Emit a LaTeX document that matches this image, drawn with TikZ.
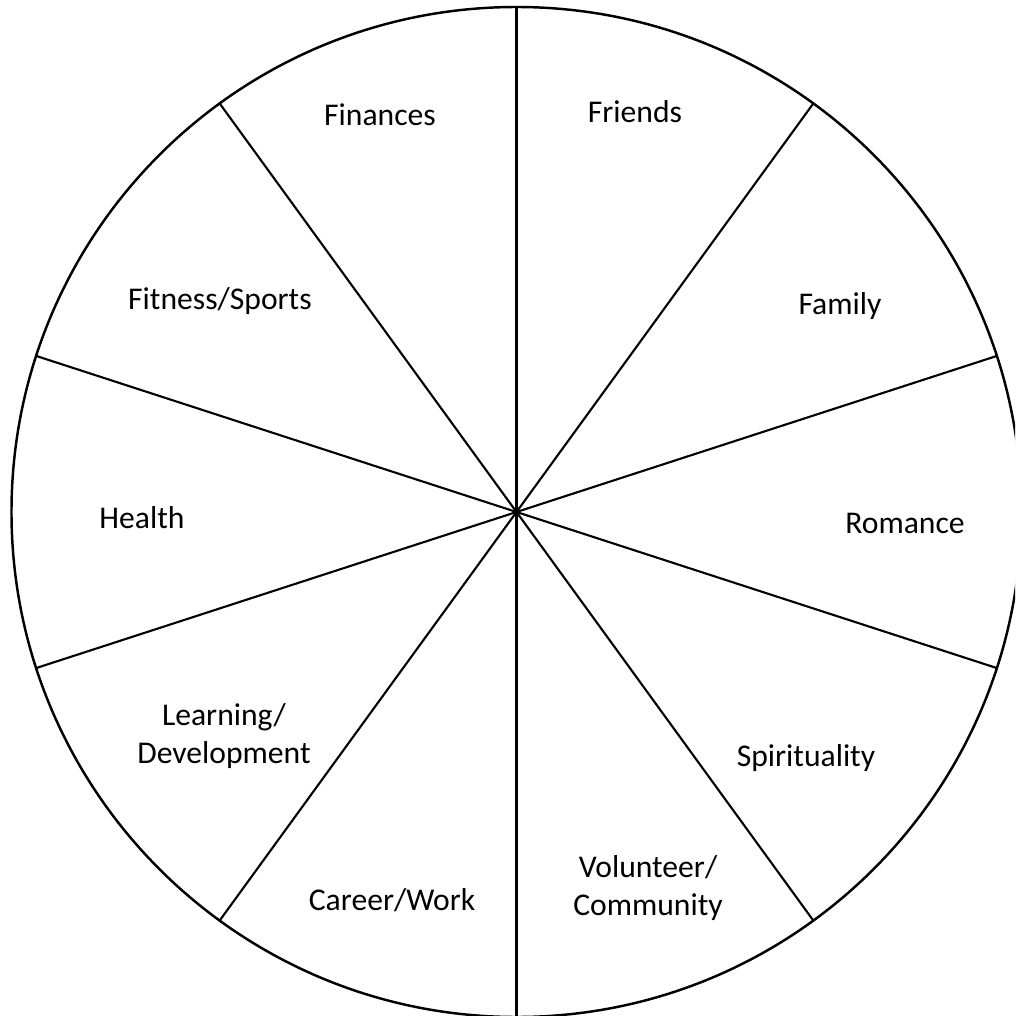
\documentclass[tikz,border=0pt]{standalone}
\usepackage{fontspec}
\setmainfont{Carlito}
\usetikzlibrary{math}

\begin{document}
\begin{tikzpicture}
\tikzset{
    wheel/.style={line width=0.7pt, black},
    spoke/.style={line width=0.6pt, black},
    area/.style={font=\fontsize{9}{10.6}\selectfont, align=center, inner sep=0pt},
    }

% Size of the wheel
\tikzmath{
    \R = 5.05;
    \n = 10;
    \step = 360/\n;
}

% Keeps the page as big as the reference
\useasboundingbox (-5.165,-5.04) rectangle (4.985,5.12);
\clip (-5.165,-5.04) rectangle (4.985,5.12);

\coordinate (hub) at (0,0);
\draw[wheel] (hub) circle (\R);

% Draws the spokes
\foreach \x in {1,...,\n} {
    \coordinate (rim\x) at ({18+(\x-1)*\step}:\R);
    \draw[spoke] (hub) -- (rim\x);
}

% Names of the areas
\node[area] (finances) at (-1.365,3.97) {Finances};
\node[area] (friends) at (1.185,4.00) {Friends};
\node[area] (family) at (3.235,2.06) {Family};
\node[area] (romance) at (3.885,-0.11) {Romance};
\node[area] (spirit) at (2.895,-2.46) {Spirituality};
\node[area] (volunteer) at (1.315,-3.76) {Volunteer/\\Community};
\node[area] (career) at (-1.245,-3.88) {Career/Work};
\node[area] (learning) at (-2.925,-2.24) {Learning/\\Development};
\node[area] (health) at (-3.745,-0.06) {Health};
\node[area] (fitness) at (-2.965,2.11) {Fitness/Sports};

\end{tikzpicture}
\end{document}
